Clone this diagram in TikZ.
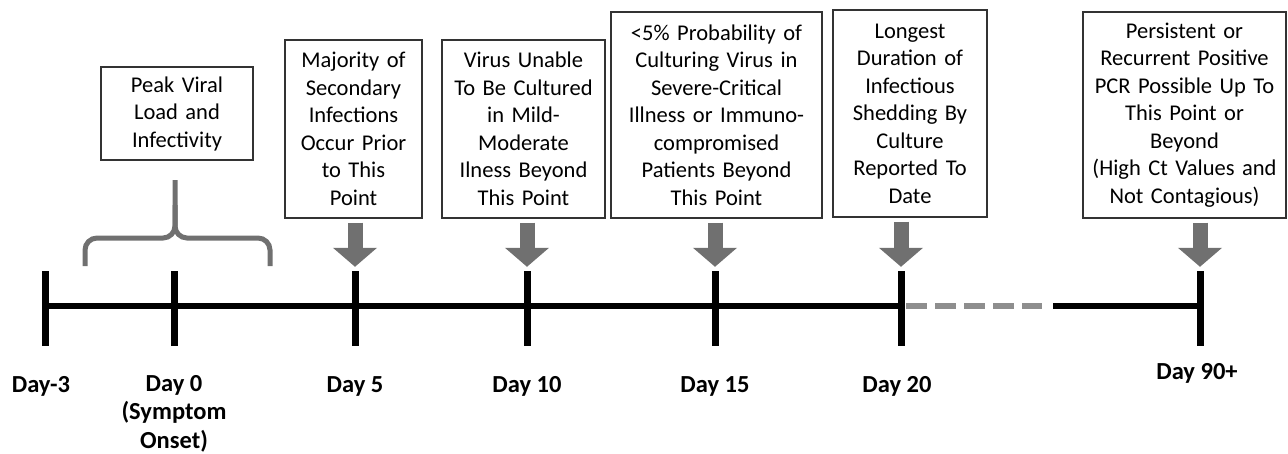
\documentclass[tikz,border=0pt]{standalone}
\usepackage{fontspec}
\setmainfont{Carlito}
\usetikzlibrary{arrows.meta}
\definecolor{arrowgray}{RGB}{112,112,112}
\definecolor{dashgray}{RGB}{142,142,142}
\tikzset{
  infobox/.style={draw=black!80, line width=1.2pt, align=center, inner sep=0pt,
    font=\fontsize{22.5}{27.5}\selectfont},
  tickmark/.style={fill=black, inner sep=0pt, minimum width=7pt, minimum height=75pt},
  axisline/.style={line width=6pt},
  gapline/.style={dashgray, line width=6pt, dash pattern=on 21pt off 8pt},
  pointer/.style={arrowgray, line width=15pt, -{Triangle[width=43pt,length=19pt]},
    shorten <=4pt, shorten >=4pt},
  bracket/.style={arrowgray, line width=5pt, rounded corners=12pt},
  daylabel/.style={font=\fontsize{24.5}{28.5}\selectfont\bfseries, align=center,
    inner sep=0pt, anchor=base}
}
\begin{document}
\begin{tikzpicture}[x=1pt,y=-1pt]
  \useasboundingbox (0,0) rectangle (1288,453);

  %TACCHE
  \node[tickmark] (km3) at (45,308.5) {};
  \node[tickmark] (k0) at (174,308.5) {};
  \node[tickmark] (k5) at (355,308.5) {};
  \node[tickmark] (k10) at (527,308.5) {};
  \node[tickmark] (k15) at (715,308.5) {};
  \node[tickmark] (k20) at (901,308.5) {};
  \node[tickmark] (k90) at (1200,308.5) {};

  %ASSE
  \coordinate (gapL) at (1042,306);
  \coordinate (gapR) at (1053,306);
  \draw[axisline] ([yshift=2.5pt]km3.center) -- ([yshift=2.5pt]k20.center);
  \draw[gapline] ([xshift=5pt,yshift=2.5pt]k20.center) -- (gapL);
  \draw[axisline] (gapR) -- ([yshift=2.5pt]k90.center);

  %ETICHETTE
  \node[daylabel] (lm3) at (41,392) {Day-3};
  \node[daylabel] (l0) at (174,448) {Day 0\\(Symptom\\Onset)};
  \node[daylabel] (l5) at (355,392) {Day 5};
  \node[daylabel] (l10) at (527,392) {Day 10};
  \node[daylabel] (l15) at (715,392) {Day 15};
  \node[daylabel] (l20) at (897,392) {Day 20};
  \node[daylabel] (l90) at (1197,379) {Day 90+};

  %RIQUADRI
  \node[infobox, text width=152pt, minimum height=93pt] (peak) at (177,113.5)
    {Peak Viral\\Load and\\Infectivity};
  \node[infobox, text width=137pt, minimum height=178pt] (maj) at (353.5,129)
    {Majority of\\Secondary\\Infections\\Occur Prior\\to This\\Point};
  \node[infobox, text width=163pt, minimum height=178pt] (unable) at (523.5,129)
    {Virus Unable\\To Be Cultured\\in Mild-\\Moderate\\Ilness Beyond\\This Point};
  \node[infobox, text width=211pt, minimum height=206pt] (severe) at (716.5,115)
    {<5\% Probability of\\Culturing Virus in\\Severe-Critical\\Illness or Immuno-\\compromised\\Patients Beyond\\This Point};
  \node[infobox, text width=154pt, minimum height=207pt] (longest) at (910,113.5)
    {Longest\\Duration of\\Infectious\\Shedding By\\Culture\\Reported To\\Date};
  \node[infobox, text width=203pt, minimum height=206pt] (persist) at (1184.5,115)
    {Persistent or\\Recurrent Positive\\PCR Possible Up To\\This Point or\\Beyond\\(High Ct Values and\\Not Contagious)};

  %PARENTESI
  \draw[bracket] (85,266) |- (175,238) -- (175,180);
  \draw[bracket] (270,266) |- (175,238) -- (175,205);

  %FRECCE
  \draw[pointer] (maj.south -| k5) -- (k5.north);
  \draw[pointer] (unable.south -| k10) -- (k10.north);
  \draw[pointer] (severe.south -| k15) -- (k15.north);
  \draw[pointer] (longest.south -| k20) -- (k20.north);
  \draw[pointer] (persist.south -| k90) -- (k90.north);
\end{tikzpicture}
\end{document}
